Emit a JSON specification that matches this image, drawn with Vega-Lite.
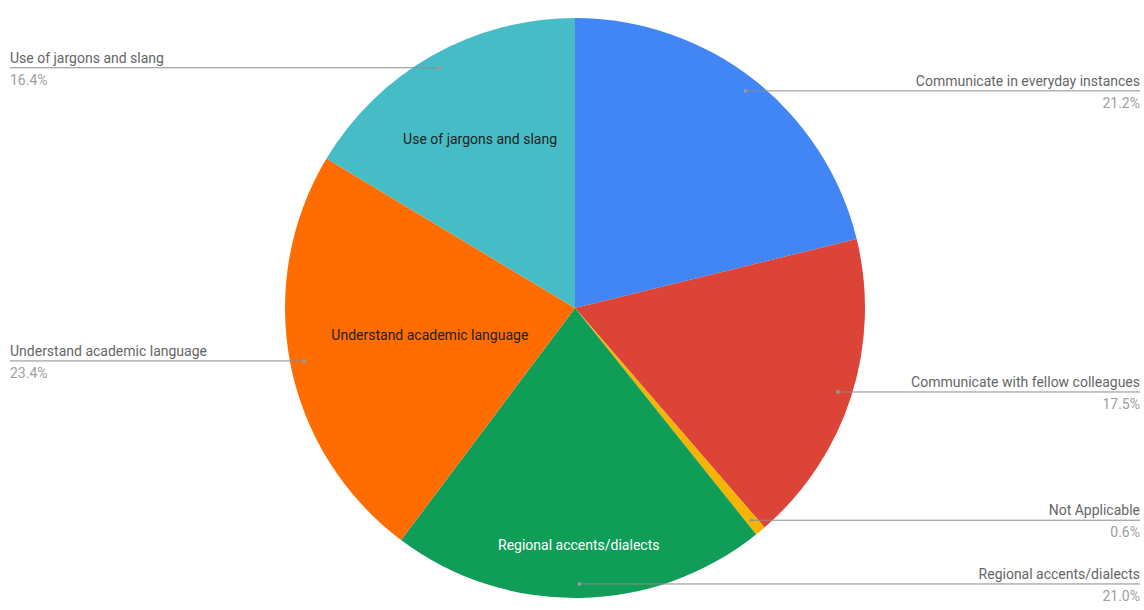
{
  "$schema": "https://vega.github.io/schema/vega-lite/v6.json",
  "width": 1144,
  "height": 610,
  "autosize": {"type": "fit", "contains": "padding"},
  "padding": {"left": 6, "top": 6, "right": 0, "bottom": 0},
  "background": "white",
  "config": {"view": {"stroke": null}, "text": {"font": "Roboto", "fontSize": 14}},
  "data": {
    "values": [
      {"category": "Communicate in everyday instances", "value": 21.2},
      {"category": "Communicate with fellow colleagues", "value": 17.5},
      {"category": "Not Applicable", "value": 0.6},
      {"category": "Regional accents/dialects", "value": 21.0},
      {"category": "Understand academic language", "value": 23.4},
      {"category": "Use of jargons and slang", "value": 16.4}
    ]
  },
  "transform": [
    {"joinaggregate": [{"op": "sum", "field": "value", "as": "total"}]},
    {"window": [{"op": "sum", "field": "value", "as": "cum"}], "sort": [{"field": "category", "order": "ascending"}], "frame": [null, 0]},
    {"calculate": "(datum.cum - datum.value / 2) / datum.total * 2 * PI", "as": "mid"},
    {"calculate": "276 * sin(datum.mid)", "as": "dotX"},
    {"calculate": "276 * cos(datum.mid)", "as": "dotY"},
    {"calculate": "datum.dotX >= 0 ? 565 : -565", "as": "edgeX"},
    {"calculate": "290 * (0.51 + 0.31 * pow(abs(cos(datum.mid)), 5))", "as": "rIn"},
    {"calculate": "datum.rIn * sin(datum.mid)", "as": "inX"},
    {"calculate": "datum.rIn * cos(datum.mid)", "as": "inY"},
    {"calculate": "format(datum.value, '.1f') + '%'", "as": "pct"}
  ],
  "layer": [
    {
      "mark": {"type": "arc", "outerRadius": 290},
      "encoding": {
        "theta": {"field": "value", "type": "quantitative", "stack": true},
        "order": {"field": "category", "sort": "ascending"},
        "color": {
          "field": "category",
          "type": "nominal",
          "scale": {
            "domain": ["Communicate in everyday instances", "Communicate with fellow colleagues", "Not Applicable", "Regional accents/dialects", "Understand academic language", "Use of jargons and slang"],
            "range": ["#4285F4", "#DB4437", "#F4B400", "#0F9D58", "#FF6D01", "#46BDC6"]
          },
          "legend": null
        }
      }
    },
    {
      "mark": {"type": "rule", "color": "#8c8c8c", "strokeWidth": 1},
      "encoding": {
        "x": {"field": "dotX", "type": "quantitative", "scale": {"domain": [-569, 569], "nice": false, "zero": false}, "axis": null},
        "x2": {"field": "edgeX"},
        "y": {"field": "dotY", "type": "quantitative", "scale": {"domain": [-302, 302], "nice": false, "zero": false}, "axis": null}
      }
    },
    {
      "mark": {"type": "circle", "size": 14, "color": "#9a9a9a", "opacity": 1},
      "encoding": {
        "x": {"field": "dotX", "type": "quantitative", "scale": {"domain": [-569, 569], "nice": false, "zero": false}, "axis": null},
        "y": {"field": "dotY", "type": "quantitative", "scale": {"domain": [-302, 302], "nice": false, "zero": false}, "axis": null}
      }
    },
    {
      "transform": [{"filter": "datum.dotX >= 0"}],
      "mark": {"type": "text", "align": "right", "baseline": "alphabetic", "dy": -5, "color": "#666666"},
      "encoding": {
        "x": {"field": "edgeX", "type": "quantitative", "scale": {"domain": [-569, 569], "nice": false, "zero": false}, "axis": null},
        "y": {"field": "dotY", "type": "quantitative", "scale": {"domain": [-302, 302], "nice": false, "zero": false}, "axis": null},
        "text": {"field": "category"}
      }
    },
    {
      "transform": [{"filter": "datum.dotX >= 0"}],
      "mark": {"type": "text", "align": "right", "baseline": "alphabetic", "dy": 17, "color": "#9e9e9e"},
      "encoding": {
        "x": {"field": "edgeX", "type": "quantitative", "scale": {"domain": [-569, 569], "nice": false, "zero": false}, "axis": null},
        "y": {"field": "dotY", "type": "quantitative", "scale": {"domain": [-302, 302], "nice": false, "zero": false}, "axis": null},
        "text": {"field": "pct"}
      }
    },
    {
      "transform": [{"filter": "datum.dotX < 0"}],
      "mark": {"type": "text", "align": "left", "baseline": "alphabetic", "dy": -5, "color": "#666666"},
      "encoding": {
        "x": {"field": "edgeX", "type": "quantitative", "scale": {"domain": [-569, 569], "nice": false, "zero": false}, "axis": null},
        "y": {"field": "dotY", "type": "quantitative", "scale": {"domain": [-302, 302], "nice": false, "zero": false}, "axis": null},
        "text": {"field": "category"}
      }
    },
    {
      "transform": [{"filter": "datum.dotX < 0"}],
      "mark": {"type": "text", "align": "left", "baseline": "alphabetic", "dy": 17, "color": "#9e9e9e"},
      "encoding": {
        "x": {"field": "edgeX", "type": "quantitative", "scale": {"domain": [-569, 569], "nice": false, "zero": false}, "axis": null},
        "y": {"field": "dotY", "type": "quantitative", "scale": {"domain": [-302, 302], "nice": false, "zero": false}, "axis": null},
        "text": {"field": "pct"}
      }
    },
    {
      "transform": [{"filter": "indexof(['Use of jargons and slang', 'Understand academic language', 'Regional accents/dialects'], datum.category) >= 0"}],
      "mark": {"type": "text", "align": "center", "baseline": "middle"},
      "encoding": {
        "x": {"field": "inX", "type": "quantitative", "scale": {"domain": [-569, 569], "nice": false, "zero": false}, "axis": null},
        "y": {"field": "inY", "type": "quantitative", "scale": {"domain": [-302, 302], "nice": false, "zero": false}, "axis": null},
        "text": {"field": "category"},
        "color": {"condition": {"test": "datum.category === 'Regional accents/dialects'", "value": "#ffffff"}, "value": "#222222"}
      }
    }
  ]
}
